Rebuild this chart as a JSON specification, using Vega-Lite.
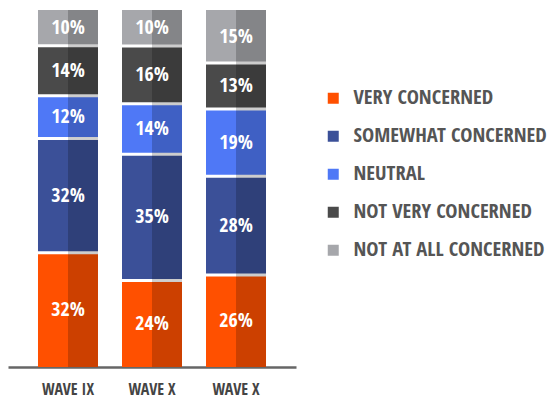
{
  "$schema": "https://vega.github.io/schema/vega-lite/v6.json",
  "width": 288,
  "height": 357,
  "autosize": "none",
  "padding": {"left": 8, "top": 10, "right": 254, "bottom": 33},
  "background": "white",
  "config": {"view": {"stroke": null}, "font": "Open Sans Condensed, sans-serif"},
  "data": {"values": [
    {"wave": "W1", "category": "VERY CONCERNED", "order": 1, "value": 0.32},
    {"wave": "W1", "category": "SOMEWHAT CONCERNED", "order": 2, "value": 0.32},
    {"wave": "W1", "category": "NEUTRAL", "order": 3, "value": 0.12},
    {"wave": "W1", "category": "NOT VERY CONCERNED", "order": 4, "value": 0.14},
    {"wave": "W1", "category": "NOT AT ALL CONCERNED", "order": 5, "value": 0.10},
    {"wave": "W2", "category": "VERY CONCERNED", "order": 1, "value": 0.24},
    {"wave": "W2", "category": "SOMEWHAT CONCERNED", "order": 2, "value": 0.35},
    {"wave": "W2", "category": "NEUTRAL", "order": 3, "value": 0.14},
    {"wave": "W2", "category": "NOT VERY CONCERNED", "order": 4, "value": 0.16},
    {"wave": "W2", "category": "NOT AT ALL CONCERNED", "order": 5, "value": 0.10},
    {"wave": "W3", "category": "VERY CONCERNED", "order": 1, "value": 0.26},
    {"wave": "W3", "category": "SOMEWHAT CONCERNED", "order": 2, "value": 0.28},
    {"wave": "W3", "category": "NEUTRAL", "order": 3, "value": 0.19},
    {"wave": "W3", "category": "NOT VERY CONCERNED", "order": 4, "value": 0.13},
    {"wave": "W3", "category": "NOT AT ALL CONCERNED", "order": 5, "value": 0.15}
  ]},
  "encoding": {
    "x": {
      "field": "wave", "type": "nominal",
      "scale": {"paddingInner": 0.2857, "paddingOuter": 0.357},
      "axis": {
        "title": null, "labelAngle": 0, "ticks": false,
        "domainColor": "#666666", "domainWidth": 2.5,
        "labelFontWeight": "bold", "labelFontSize": 16, "labelColor": "#444444",
        "labelPadding": 14,
        "labelExpr": "datum.value == 'W1' ? 'WAVE IX' : 'WAVE X'"
      }
    },
    "y": {"field": "value", "type": "quantitative", "stack": "normalize", "axis": null, "scale": {"domain": [0, 1]}},
    "order": {"field": "order", "type": "ordinal"},
    "detail": {"field": "category"}
  },
  "layer": [
    {
      "mark": {"type": "bar", "width": 60},
      "encoding": {
        "color": {
          "field": "category", "type": "nominal",
          "scale": {
            "domain": ["VERY CONCERNED", "SOMEWHAT CONCERNED", "NEUTRAL", "NOT VERY CONCERNED", "NOT AT ALL CONCERNED"],
            "range": ["#FF5000", "#3B5098", "#4F78F6", "#4A4A4A", "#A6A7AB"]
          },
          "legend": {
            "title": null, "orient": "none", "legendX": 315, "legendY": 78,
            "symbolType": "square", "symbolSize": 121, "symbolStrokeWidth": 0,
            "labelFontSize": 20.5, "labelFontWeight": "bold", "labelColor": "#555555",
            "labelOffset": 10, "rowPadding": 17, "labelLimit": 300
          }
        }
      }
    },
    {
      "mark": {"type": "tick", "size": 60, "thickness": 3, "color": "white"},
      "encoding": {
        "opacity": {"condition": {"test": "datum.category === 'NOT AT ALL CONCERNED'", "value": 0}, "value": 1}
      }
    },
    {
      "mark": {"type": "bar", "width": 30, "xOffset": 15, "color": "black", "opacity": 0.2}
    },
    {
      "mark": {"type": "text", "color": "white", "fontSize": 20, "fontWeight": "bold"},
      "encoding": {
        "y": {"field": "value", "type": "quantitative", "stack": "normalize", "bandPosition": 0.5},
        "text": {"field": "value", "type": "quantitative", "format": ".0%"}
      }
    }
  ]
}
